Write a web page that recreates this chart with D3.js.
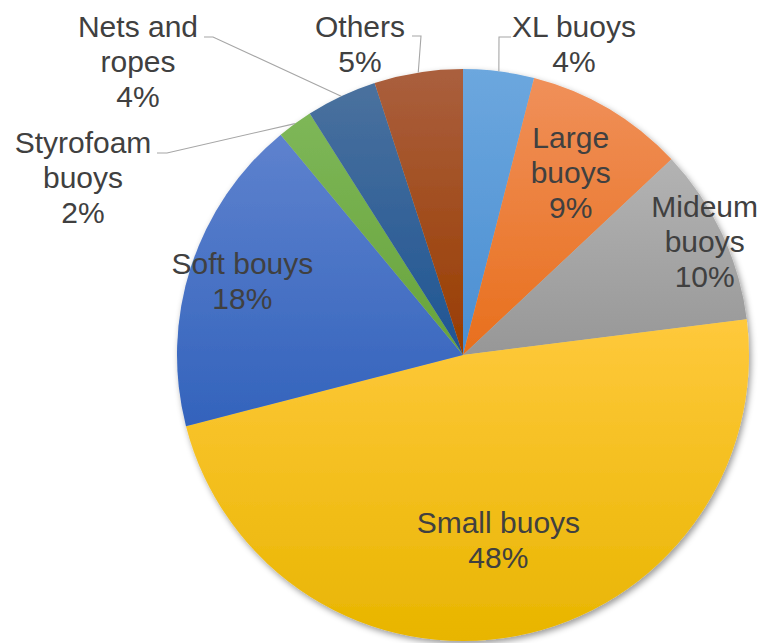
<!DOCTYPE html>
<html>
<head>
<meta charset="utf-8">
<script src="https://cdn.jsdelivr.net/npm/d3@7"></script>
<style>
  html, body { margin: 0; padding: 0; background: #fff; }
  svg { display: block; font-family: "Liberation Sans", Arial, sans-serif; }
</style>
</head>
<body>
<svg id="chart" width="763" height="643"></svg>
<script>
// Composition of collected debris, by share of total (%)
const categories = ["XL buoys", "Large buoys", "Mideum buoys", "Small buoys", "Soft bouys", "Styrofoam buoys", "Nets and ropes", "Others"];
const shares = [4, 9, 10, 48, 18, 2, 4, 5];
const labelLines = [["XL buoys"], ["Large", "buoys"], ["Mideum", "buoys"], ["Small buoys"], ["Soft bouys"], ["Styrofoam", "buoys"], ["Nets and", "ropes"], ["Others"]];

// Slice fills: lighter top to deeper bottom
const topColors = ["#6ca7de", "#f0905a", "#b3b3b3", "#ffc93c", "#5e82ce", "#7eb758", "#4a719e", "#aa5f3e"];
const bottomColors = ["#4a8ed2", "#e86f1c", "#979797", "#e8b500", "#3363bc", "#67a33b", "#1f5593", "#993d00"];

// Label placement: inside labels sit on the slice bisector at a fraction of the radius;
// outside labels have a text anchor and a leader elbow.
const labelLayout = [
  { outside: true, x: 574, y: 37, elbow: [499, 37], end: [511, 37] },
  { frac: 0.74 },
  { frac: 0.934 },
  { frac: 0.66 },
  { frac: 0.80, dx: -3, dy: -3 },
  { outside: true, x: 83, y: 153, elbow: [167, 153], end: [157, 153] },
  { outside: true, x: 138, y: 37, elbow: [213, 37], end: [204, 37] },
  { outside: true, x: 360, y: 37, elbow: [421, 36], end: [412, 36] }
];

const cx = 463, cy = 355, radius = 286;
const fontSize = 30, lineH = 35;
const textColor = "#404040";

const svg = d3.select("#chart");
const defs = svg.append("defs");

const shadow = defs.append("filter").attr("id", "pieShadow")
  .attr("x", "-10%").attr("y", "-10%").attr("width", "120%").attr("height", "120%");
shadow.append("feDropShadow")
  .attr("dx", 2).attr("dy", 3).attr("stdDeviation", 3)
  .attr("flood-color", "#000").attr("flood-opacity", 0.4);

categories.forEach((c, i) => {
  const g = defs.append("linearGradient").attr("id", "grad" + i)
    .attr("x1", 0).attr("y1", 0).attr("x2", 0).attr("y2", 1);
  g.append("stop").attr("offset", "0%").attr("stop-color", topColors[i]);
  g.append("stop").attr("offset", "100%").attr("stop-color", bottomColors[i]);
});

const pie = d3.pie().sort(null).value(d => d.value);
const data = categories.map((c, i) => ({ name: c, value: shares[i], i }));
const arcs = pie(data);

const arc = d3.arc().innerRadius(0).outerRadius(radius);

const pieG = svg.append("g")
  .attr("transform", `translate(${cx},${cy})`)
  .attr("filter", "url(#pieShadow)");

pieG.selectAll("path.slice")
  .data(arcs)
  .join("path")
  .attr("class", "slice")
  .attr("d", arc)
  .attr("fill", d => `url(#grad${d.data.i})`);

const midAngle = d => (d.startAngle + d.endAngle) / 2;
const polar = (a, r) => [cx + r * Math.sin(a), cy - r * Math.cos(a)];

// Leader lines for outside labels
const leaderG = svg.append("g");
arcs.forEach(d => {
  const L = labelLayout[d.data.i];
  if (!L.outside) return;
  const p0 = polar(midAngle(d), radius);
  leaderG.append("polyline")
    .attr("points", [p0, L.elbow, L.end].map(p => p.join(",")).join(" "))
    .attr("fill", "none")
    .attr("stroke", "#a6a6a6")
    .attr("stroke-width", 1.1);
});

// Labels: category name lines followed by the percentage
const labelG = svg.append("g")
  .attr("font-size", fontSize)
  .attr("fill", textColor)
  .attr("text-anchor", "middle");

arcs.forEach(d => {
  const i = d.data.i;
  const L = labelLayout[i];
  const lines = labelLines[i].concat([shares[i] + "%"]);
  let x, firstBaseline;
  if (L.outside) {
    x = L.x;
    firstBaseline = L.y;
  } else {
    const p = polar(midAngle(d), radius * L.frac);
    x = p[0] + (L.dx || 0);
    const blockMid = p[1] + (L.dy || 0);
    firstBaseline = blockMid - (lines.length - 1) * lineH / 2 + fontSize * 0.35;
  }
  const t = labelG.append("text").attr("x", x).attr("y", firstBaseline);
  lines.forEach((s, k) => {
    t.append("tspan").attr("x", x).attr("dy", k === 0 ? 0 : lineH).text(s);
  });
});
</script>
</body>
</html>
